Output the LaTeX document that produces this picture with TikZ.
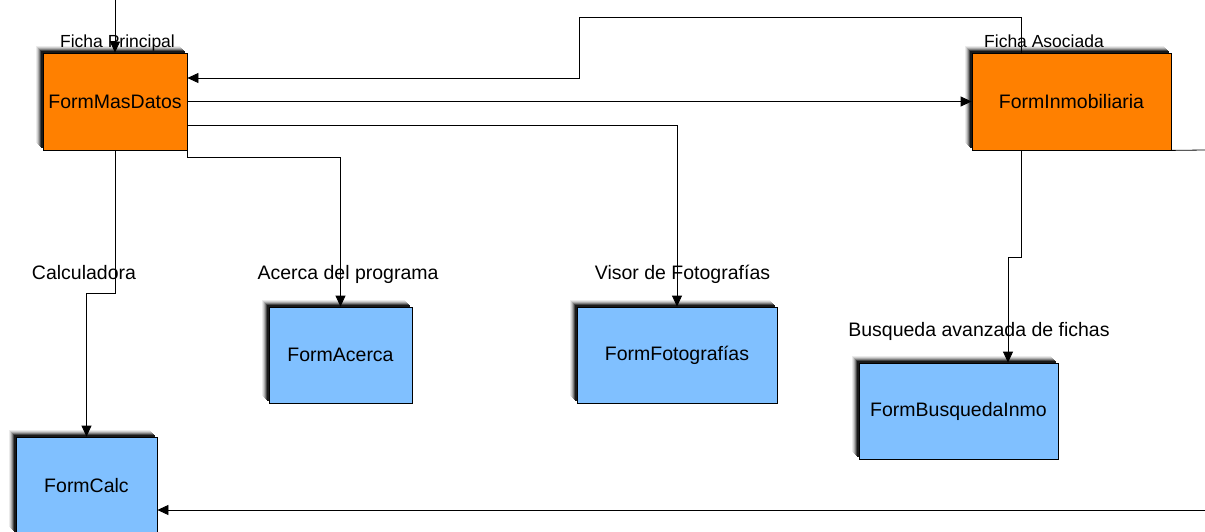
\documentclass[tikz,border=0pt]{standalone}
\usepackage{fontspec}
\setmainfont{Liberation Sans}
\usetikzlibrary{arrows.meta,shadows}

\definecolor{fichaorange}{HTML}{FF8000}
\definecolor{fichablue}{HTML}{80C0FF}

\begin{document}
\begin{tikzpicture}[x=1pt,y=-1pt,
  box/.style={rectangle,draw=black,line width=0.8pt,inner sep=0pt,
              minimum height=97pt,font=\fontsize{19.5}{22}\selectfont,
              general shadow={draw=none,fill=black!8,shadow xshift=-7pt,shadow yshift=7pt},
              general shadow={draw=none,fill=black!18,shadow xshift=-6pt,shadow yshift=6pt},
              general shadow={draw=none,fill=black!32,shadow xshift=-5pt,shadow yshift=5pt},
              general shadow={draw=none,fill=black!50,shadow xshift=-4pt,shadow yshift=4pt},
              general shadow={draw=none,fill=black!72,shadow xshift=-3pt,shadow yshift=3pt},
              general shadow={draw=none,fill=black!90,shadow xshift=-2pt,shadow yshift=2pt}},
  principal/.style={box,fill=fichaorange},
  secundario/.style={box,fill=fichablue,minimum height=96pt},
  etiqueta/.style={anchor=base,inner sep=0pt,font=\fontsize{19.5}{22}\selectfont},
  arr/.style={-{Triangle[length=11pt,width=10pt]},line width=0.8pt},
  linea/.style={line width=0.8pt}
]
\useasboundingbox (0,0) rectangle (1205,532);

\node[principal,minimum width=144pt]  (masdatos)     at (115,101.5)  {FormMasDatos};
\node[principal,minimum width=199pt]  (inmobiliaria) at (1071.5,101.5) {FormInmobiliaria};
\node[secundario,minimum width=141pt,minimum height=97pt] (calc) at (86.5,485.5) {FormCalc};
\node[secundario,minimum width=143pt] (acerca)       at (340.5,355)  {FormAcerca};
\node[secundario,minimum width=200pt] (fotos)        at (677,355)    {FormFotografías};
\node[secundario,minimum width=199pt] (busqueda)     at (958.5,411)  {FormBusquedaInmo};

\node[etiqueta,font=\fontsize{17.5}{20}\selectfont] (lblprincipal) at (117.5,48) {Ficha Principal};
\node[etiqueta,font=\fontsize{17.5}{20}\selectfont] (lblasociada)  at (1044,48)  {Ficha Asociada};
\node[etiqueta] (lblcalc)     at (84,279)  {Calculadora};
\node[etiqueta] (lblacerca)   at (348,279) {Acerca del programa};
\node[etiqueta] (lblfotos)    at (682.5,279) {Visor de Fotografías};
\node[etiqueta] (lblbusqueda) at (979,336) {Busqueda avanzada de fichas};

\coordinate (entrada) at (115,0);
\coordinate (salida)  at (1205,150);
\coordinate (retorno) at (1205,510);

\draw[arr] (entrada) -- (masdatos.north);
\draw[arr] ([xshift=-50.5pt]inmobiliaria.north) -- ++(0,-35) -| (579,78)
           -- ([yshift=23.5pt]masdatos.east);
\draw[arr] (masdatos) -- (inmobiliaria);
\draw[arr] ([yshift=-23.5pt]masdatos.east) -| (fotos.north);
\draw[arr] (masdatos.south east) -- ++(0,7) -| (acerca.north);
\draw[arr] (masdatos.south) -- ++(0,143) -| (calc.north);
\draw[arr] ([xshift=-50.5pt]inmobiliaria.south) -- ++(0,107)
           -| ([xshift=49.5pt]busqueda.north);
\draw[linea] (inmobiliaria.south east) -- (salida);
\draw[arr] (retorno) -- ([yshift=-24.5pt]calc.east);
\end{tikzpicture}
\end{document}
